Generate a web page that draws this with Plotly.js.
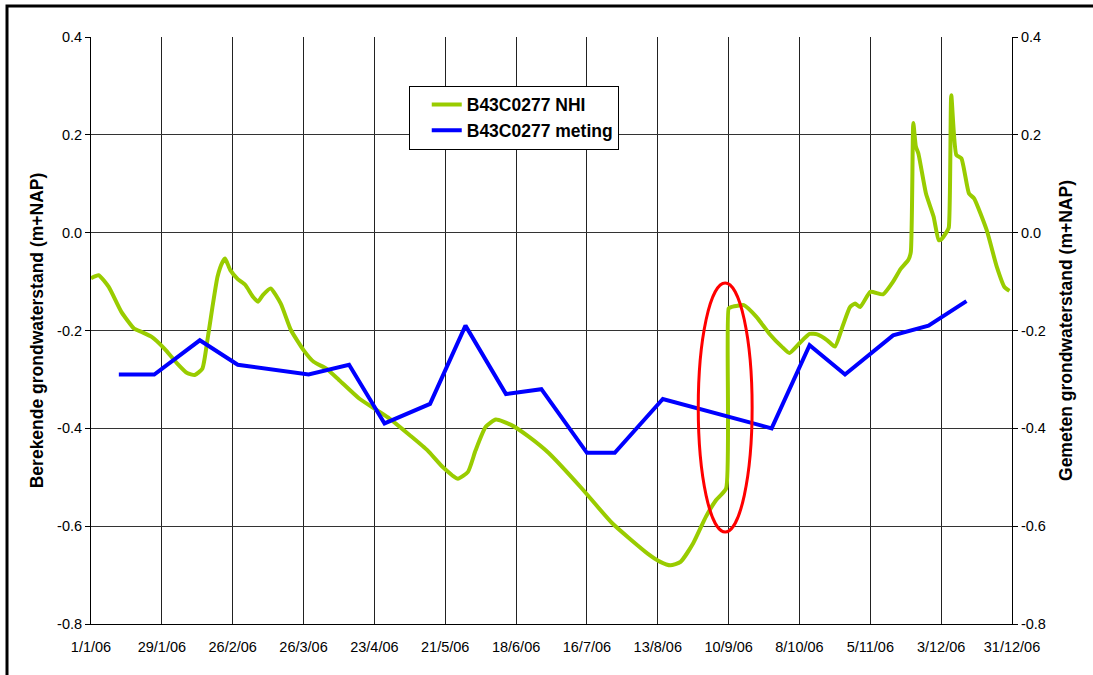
<!DOCTYPE html>
<html>
<head>
<meta charset="utf-8">
<script src="https://cdn.plot.ly/plotly-3.0.1.min.js"></script>
<style>
  html, body { margin: 0; padding: 0; background: #ffffff; }
  #chart { width: 1093px; height: 675px; }
</style>
</head>
<body>
<div id="chart"></div>
<script>
// Modelled groundwater level (NHI), m+NAP
const nhiDates = [
  '2006-01-01','2006-01-04','2006-01-08','2006-01-13','2006-01-18','2006-01-21','2006-01-25','2006-01-30',
  '2006-02-04','2006-02-08','2006-02-11','2006-02-14','2006-02-16','2006-02-18','2006-02-20','2006-02-22',
  '2006-02-23','2006-02-25','2006-02-28','2006-03-03','2006-03-06','2006-03-08','2006-03-10','2006-03-13',
  '2006-03-17','2006-03-21','2006-03-26','2006-03-30','2006-04-04','2006-04-09','2006-04-17','2006-04-24',
  '2006-04-29','2006-05-07','2006-05-14','2006-05-20','2006-05-26','2006-05-30','2006-06-02','2006-06-06',
  '2006-06-10','2006-06-16','2006-06-23','2006-07-01','2006-07-14','2006-07-26','2006-08-09','2006-08-14',
  '2006-08-18','2006-08-22','2006-08-27','2006-09-01','2006-09-05','2006-09-09','2006-09-10','2006-09-11',
  '2006-09-13','2006-09-16','2006-09-21','2006-09-26','2006-10-01','2006-10-04','2006-10-08','2006-10-12',
  '2006-10-15','2006-10-19','2006-10-22','2006-10-25','2006-10-28','2006-10-30','2006-11-01','2006-11-05',
  '2006-11-10','2006-11-14','2006-11-17','2006-11-20','2006-11-21','2006-11-22','2006-11-23','2006-11-24',
  '2006-11-27','2006-11-30','2006-12-02','2006-12-03','2006-12-05','2006-12-06','2006-12-07','2006-12-09',
  '2006-12-11','2006-12-14','2006-12-16','2006-12-21','2006-12-25','2006-12-28','2006-12-30'
];
const nhiValues = [
  -0.093,-0.087,-0.111,-0.162,-0.196,-0.203,-0.213,-0.237,
  -0.267,-0.287,-0.291,-0.278,-0.220,-0.152,-0.090,-0.060,
  -0.053,-0.076,-0.095,-0.107,-0.131,-0.141,-0.127,-0.114,
  -0.145,-0.199,-0.240,-0.264,-0.278,-0.301,-0.339,-0.363,
  -0.380,-0.414,-0.445,-0.479,-0.503,-0.489,-0.445,-0.397,
  -0.382,-0.393,-0.417,-0.451,-0.523,-0.594,-0.656,-0.673,
  -0.680,-0.673,-0.635,-0.581,-0.547,-0.523,-0.155,-0.152,
  -0.150,-0.148,-0.172,-0.206,-0.233,-0.246,-0.226,-0.207,
  -0.208,-0.220,-0.233,-0.192,-0.152,-0.145,-0.152,-0.121,
  -0.126,-0.100,-0.074,-0.056,-0.040,0.224,0.176,0.162,
  0.080,0.033,-0.015,-0.014,0.000,0.010,0.281,0.159,
  0.152,0.080,0.070,0.005,-0.070,-0.111,-0.119
];

// Measured groundwater level, m+NAP
const metingDates = [
  '2006-01-12','2006-01-26','2006-02-13','2006-02-28','2006-03-28','2006-04-13','2006-04-27',
  '2006-05-15','2006-05-29','2006-06-14','2006-06-28','2006-07-16','2006-07-27','2006-08-15',
  '2006-09-27','2006-10-12','2006-10-26','2006-11-14','2006-11-28','2006-12-13'
];
const metingValues = [
  -0.29,-0.29,-0.22,-0.27,-0.29,-0.27,-0.39,
  -0.35,-0.19,-0.33,-0.32,-0.45,-0.45,-0.34,
  -0.40,-0.23,-0.29,-0.21,-0.19,-0.14
];

// Axis ticks
const xTickVals = ['2006-01-01','2006-01-29','2006-02-26','2006-03-26','2006-04-23','2006-05-21','2006-06-18',
  '2006-07-16','2006-08-13','2006-09-10','2006-10-08','2006-11-05','2006-12-03','2006-12-31'];
const xTickText = ['1/1/06','29/1/06','26/2/06','26/3/06','23/4/06','21/5/06','18/6/06',
  '16/7/06','13/8/06','10/9/06','8/10/06','5/11/06','3/12/06','31/12/06'];
const yTickVals = [-0.8, -0.6, -0.4, -0.2, 0.0, 0.2, 0.4];
const yTickText = ['-0.8', '-0.6', '-0.4', '-0.2', '0.0', '0.2', '0.4'];

const seriesNames = ['B43C0277 NHI', 'B43C0277 meting'];

const FONT = 'Liberation Sans, Arial, Helvetica, sans-serif';

const traces = [
  {
    x: nhiDates, y: nhiValues, name: seriesNames[0], type: 'scatter', mode: 'lines',
    line: { color: '#99CC00', width: 4, shape: 'spline', smoothing: 0.5 },
    legendgroup: 'nhi', yaxis: 'y'
  },
  {
    x: metingDates, y: metingValues, name: seriesNames[1], type: 'scatter', mode: 'lines',
    line: { color: '#0000FF', width: 4 }, legendgroup: 'meting', yaxis: 'y2'
  }
];

const yCommon = {
  range: [-0.8, 0.4],
  tickmode: 'array', tickvals: yTickVals, ticktext: yTickText,
  ticks: 'outside', ticklen: 5, tickwidth: 1, tickcolor: '#000',
  showline: true, linecolor: '#000', linewidth: 1,
  zeroline: false,
  tickfont: { family: FONT, size: 14.5, color: '#000' }
};

const layout = {
  width: 1093, height: 675,
  margin: { l: 91, r: 81, t: 37, b: 51, pad: 0 },
  paper_bgcolor: '#ffffff', plot_bgcolor: '#ffffff',
  font: { family: FONT, color: '#000' },
  showlegend: true,
  xaxis: {
    type: 'date',
    range: ['2006-01-01', '2006-12-31'],
    tickmode: 'array', tickvals: xTickVals, ticktext: xTickText,
    ticks: '', ticklabelstandoff: 10,
    showgrid: true, gridcolor: '#222', gridwidth: 1,
    showline: true, linecolor: '#000', linewidth: 1, zeroline: false,
    tickfont: { family: FONT, size: 14.5, color: '#000' }
  },
  yaxis: Object.assign({}, yCommon, {
    showgrid: true, gridcolor: '#333', gridwidth: 1,
    title: { text: 'Berekende grondwaterstand (m+NAP)', standoff: 8,
             font: { family: FONT, size: 17.5, weight: 700, color: '#000' } }
  }),
  yaxis2: Object.assign({}, yCommon, {
    overlaying: 'y', side: 'right', showgrid: false,
    title: { text: 'Gemeten grondwaterstand (m+NAP)', standoff: 14,
             font: { family: FONT, size: 17.5, weight: 700, color: '#000' } }
  }),
  legend: {
    x: 0.345, y: 0.917, xanchor: 'left', yanchor: 'top',
    bgcolor: '#ffffff', bordercolor: '#000', borderwidth: 1,
    traceorder: 'grouped', tracegroupgap: 0,
    indentation: 17,
    font: { family: FONT, size: 17.5, weight: 700, color: '#000' }
  },
  shapes: [
    // highlight around the September jump
    { type: 'circle', xref: 'x', yref: 'y',
      x0: '2006-08-29', x1: '2006-09-19 07:00', y0: -0.612, y1: -0.103,
      line: { color: '#FF0000', width: 3 }, layer: 'above' },
    // outer frame of the chart
    { type: 'rect', xref: 'paper', yref: 'paper',
      x0: -0.0912, x1: 1.0955, y0: -0.0954, y1: 1.0528,
      line: { color: '#000', width: 3 }, fillcolor: 'rgba(0,0,0,0)', layer: 'above' }
  ]
};

Plotly.newPlot('chart', traces, layout, { staticPlot: true, displayModeBar: false });
</script>
</body>
</html>
